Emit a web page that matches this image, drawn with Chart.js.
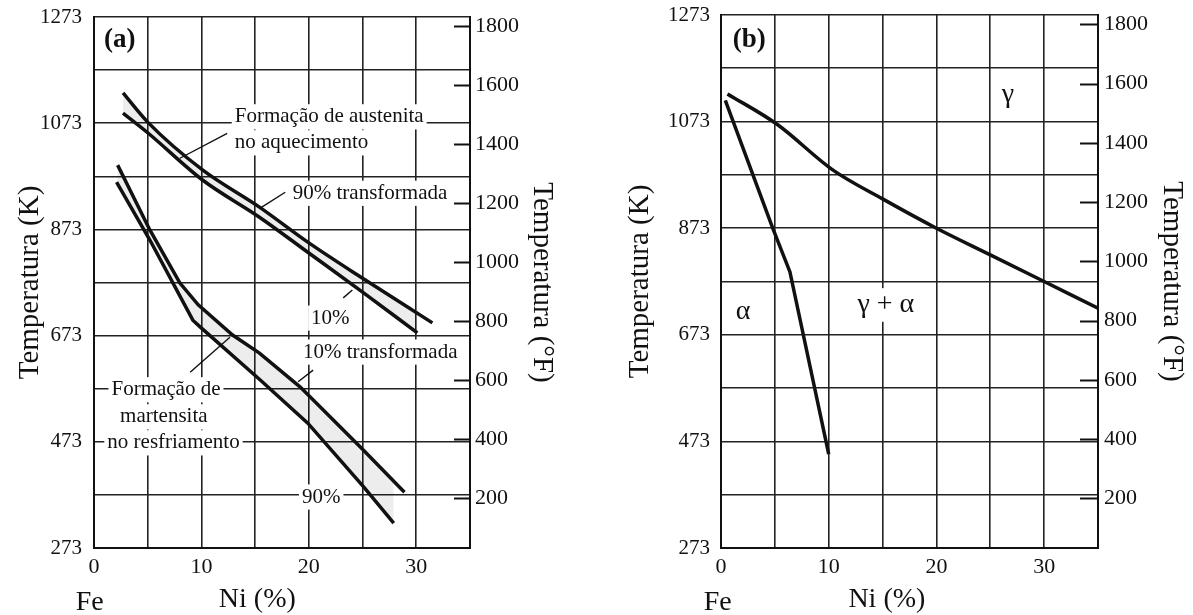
<!DOCTYPE html>
<html><head><meta charset="utf-8">
<script src="https://cdn.jsdelivr.net/npm/chart.js@4.4.1/dist/chart.umd.min.js"></script>
<style>
html,body{margin:0;padding:0;background:#fff;}
#wrap{position:relative;width:1193px;height:615px;overflow:hidden;background:#fff;}
canvas{position:absolute;top:0;}
#ca{left:0;} #cb{left:597px;}
</style></head><body>
<div id="wrap"><canvas id="ca" width="597" height="615"></canvas><canvas id="cb" width="596" height="615"></canvas></div>
<script>
// ---------- axis values ----------
const X_GRID = [0, 5, 10, 15, 20, 25, 30, 35];
const X_TICK_LABELS = [0, 10, 20, 30];
const K_GRID = [273, 373, 473, 573, 673, 773, 873, 973, 1073, 1173, 1273];
const K_TICK_LABELS = [273, 473, 673, 873, 1073, 1273];
const F_TICK_LABELS = [200, 400, 600, 800, 1000, 1200, 1400, 1600, 1800];

// ---------- panel (a) series: Ni (%) vs temperature (K) ----------
const NI_AUST_90 = [2.7, 5.0, 10.1, 15.4, 19.9, 25.0, 31.5];
const K_AUST_90  = [1130, 1075, 985, 915, 849, 781, 697];
const NI_AUST_10 = [2.7, 5.0, 10.1, 15.4, 19.9, 25.0, 30.1];
const K_AUST_10  = [1092, 1055, 966, 896, 830, 755, 678];
const NI_MART_10 = [2.2, 5.2, 8.0, 9.7, 12.9, 15.4, 19.2, 25.0, 28.9];
const K_MART_10  = [994, 872, 772, 731, 674, 640, 576, 459, 378];
const NI_MART_90 = [2.1, 5.2, 9.2, 9.9, 15.5, 19.9, 25.1, 27.9];
const K_MART_90  = [962, 853, 702, 689, 589, 508, 388, 320];

// ---------- panel (b) series ----------
const NI_GAMMA = [0.6, 5.2, 10.4, 15.0, 20.0, 25.0, 30.0, 35.0];
const K_GAMMA  = [1125, 1068, 982, 928, 873, 823, 773, 723];
const NI_ALPHA = [0.4, 4.8, 6.4, 10.0];
const K_ALPHA  = [1113, 873, 791, 449];

const INK = '#111';
const SERIF = '"Liberation Serif", "DejaVu Serif", serif';
const kToF = k => (k - 273.15) * 1.8 + 32;

function pts(xs, ys) { return xs.map((x, i) => ({ x: x, y: ys[i] })); }
function lineDs(xs, ys, extra) {
  return Object.assign({
    data: pts(xs, ys), borderColor: INK, borderWidth: 3.5, pointRadius: 0,
    tension: 0, fill: false, backgroundColor: 'rgba(0,0,0,0.07)'
  }, extra || {});
}
function noPad(s) { s.paddingTop = 0; s.paddingBottom = 0; s.paddingLeft = 0; s.paddingRight = 0; }

const notesPlugin = {
  id: 'notes',
  beforeDatasetsDraw(chart, args, opts) {
    const ctx = chart.ctx, xs = chart.scales.x, ys = chart.scales.y, yf = chart.scales.yF;
    const ca = chart.chartArea;
    ctx.save();
    ctx.strokeStyle = INK; ctx.lineWidth = 2;
    F_TICK_LABELS.forEach(v => {
      const y = Math.round(yf.getPixelForValue(v)) + 0.5;
      ctx.beginPath(); ctx.moveTo(ca.right - opts.markLen, y); ctx.lineTo(ca.right, y); ctx.stroke();
    });
    (opts.texts || []).forEach(t => {
      ctx.font = t.font;
      const x = xs.getPixelForValue(t.x), y = ys.getPixelForValue(t.y);
      const w = ctx.measureText(t.text).width;
      const left = t.align === 'center' ? x - w / 2 : x;
      if (t.box) { ctx.fillStyle = '#fff'; ctx.fillRect(left - 3, y - t.size * 0.6, w + 6, t.size * 1.2); }
      ctx.fillStyle = INK; ctx.textAlign = 'left'; ctx.textBaseline = 'middle';
      ctx.fillText(t.text, left, y);
    });
    ctx.strokeStyle = INK; ctx.lineWidth = 1.4;
    (opts.leaders || []).forEach(l => {
      ctx.beginPath();
      ctx.moveTo(xs.getPixelForValue(l[0]), ys.getPixelForValue(l[1]));
      ctx.lineTo(xs.getPixelForValue(l[2]), ys.getPixelForValue(l[3]));
      ctx.stroke();
    });
    ctx.restore();
  },
  afterDraw(chart, args, opts) {
    const ctx = chart.ctx, xs = chart.scales.x, ca = chart.chartArea;
    ctx.save();
    ctx.fillStyle = INK; ctx.textBaseline = 'middle'; ctx.textAlign = 'center';
    ctx.font = '28px ' + SERIF;
    ctx.fillText('Fe', xs.getPixelForValue(opts.feAt), ca.bottom + 55);
    ctx.fillText('Ni (%)', xs.getPixelForValue(opts.niAt), ca.bottom + 52);
    ctx.restore();
  }
};

function makePanel(id, datasets, cfg) {
  return new Chart(document.getElementById(id), {
    type: 'line',
    data: { datasets: datasets },
    plugins: [notesPlugin],
    options: {
      animation: false, responsive: false, devicePixelRatio: 1,
      layout: { padding: { top: cfg.padTop, left: 0, right: 0, bottom: 0 } },
      plugins: {
        legend: { display: false }, tooltip: { enabled: false },
        notes: cfg.notes
      },
      scales: {
        x: {
          type: 'linear', position: 'bottom', min: 0, max: 35,
          afterBuildTicks: s => { s.ticks = X_GRID.map(v => ({ value: v })); },
          afterFit: s => { s.height = cfg.xHeight; noPad(s); },
          ticks: {
            autoSkip: false, maxRotation: 0, padding: 6, color: INK,
            font: { family: SERIF, size: 22 },
            callback: v => X_TICK_LABELS.includes(v) ? String(v) : ''
          },
          grid: { color: '#222', lineWidth: 1.6, drawTicks: false },
          border: { color: INK, width: 2 }
        },
        y: {
          type: 'linear', position: 'left', min: 273, max: 1273,
          afterBuildTicks: s => { s.ticks = K_GRID.map(v => ({ value: v })); },
          afterFit: s => { s.width = cfg.leftW; noPad(s); },
          ticks: {
            autoSkip: false, padding: cfg.leftPad, color: INK,
            font: { family: SERIF, size: 21 },
            callback: v => K_TICK_LABELS.includes(v) ? String(v) : ''
          },
          grid: { color: '#222', lineWidth: 1.6, drawTicks: false },
          border: { color: INK, width: 2 },
          title: { display: true, text: 'Temperatura (K)', color: INK,
                   font: { family: SERIF, size: 29 }, padding: { top: cfg.leftTitlePad, bottom: 0 } }
        },
        yF: {
          type: 'linear', position: 'right', min: kToF(273), max: kToF(1273),
          afterBuildTicks: s => { s.ticks = F_TICK_LABELS.map(v => ({ value: v })); },
          afterFit: s => { s.width = cfg.rightW; noPad(s); },
          ticks: {
            autoSkip: false, padding: cfg.rightPad, color: INK,
            font: { family: SERIF, size: 22 },
            callback: v => String(v)
          },
          grid: { drawOnChartArea: false, drawTicks: false },
          border: { color: INK, width: 2 },
          title: { display: true, text: 'Temperatura (°F)', color: INK,
                   font: { family: SERIF, size: 29 }, padding: { top: cfg.rightTitlePad, bottom: 0 } }
        }
      }
    }
  });
}

const NOTE_FONT = '21px ' + SERIF;
const GREEK_FONT = '28px ' + SERIF;
const BOLD_FONT = 'bold 27px ' + SERIF;

makePanel('ca', [
  lineDs(NI_AUST_90, K_AUST_90, { cubicInterpolationMode: 'monotone' }),
  lineDs(NI_AUST_10, K_AUST_10, { cubicInterpolationMode: 'monotone', fill: '-1' }),
  lineDs(NI_MART_10, K_MART_10),
  lineDs(NI_MART_90, K_MART_90, { fill: '-1' })
], {
  padTop: 17, xHeight: 67, leftW: 94, rightW: 127, leftPad: 12, rightPad: 5,
  leftTitlePad: 13, rightTitlePad: 38,
  notes: {
    markLen: 16, feAt: -0.4, niAt: 15.2,
    texts: [
      { text: '(a)', x: 0.93, y: 1230, font: BOLD_FONT, size: 27, align: 'left', box: false },
      { text: 'Formação de austenita', x: 13.1, y: 1085, font: NOTE_FONT, size: 21, align: 'left', box: true },
      { text: 'no aquecimento', x: 13.1, y: 1036, font: NOTE_FONT, size: 21, align: 'left', box: true },
      { text: '90% transformada', x: 18.5, y: 941, font: NOTE_FONT, size: 21, align: 'left', box: true },
      { text: '10%', x: 22.0, y: 706, font: NOTE_FONT, size: 21, align: 'center', box: true },
      { text: '10% transformada', x: 19.45, y: 642, font: NOTE_FONT, size: 21, align: 'left', box: true },
      { text: 'Formação de', x: 6.7, y: 571, font: NOTE_FONT, size: 21, align: 'center', box: true },
      { text: 'martensita', x: 6.5, y: 520, font: NOTE_FONT, size: 21, align: 'center', box: true },
      { text: 'no resfriamento', x: 7.4, y: 471, font: NOTE_FONT, size: 21, align: 'center', box: true },
      { text: '90%', x: 21.15, y: 369, font: NOTE_FONT, size: 21, align: 'center', box: true }
    ],
    leaders: [
      [8.0, 1007, 12.4, 1054],
      [15.47, 913, 17.8, 943],
      [23.2, 744, 24.05, 759],
      [19.0, 586, 20.4, 608],
      [8.95, 604, 12.65, 670]
    ]
  }
});

makePanel('cb', [
  lineDs(NI_GAMMA, K_GAMMA, { cubicInterpolationMode: 'monotone' }),
  lineDs(NI_ALPHA, K_ALPHA)
], {
  padTop: 15, xHeight: 67, leftW: 124, rightW: 95, leftPad: 11, rightPad: 6,
  leftTitlePad: 26, rightTitlePad: 4,
  notes: {
    markLen: 18, feAt: -0.3, niAt: 15.4,
    texts: [
      { text: '(b)', x: 1.1, y: 1226, font: BOLD_FONT, size: 27, align: 'left', box: false },
      { text: 'γ', x: 26.65, y: 1123, font: GREEK_FONT, size: 28, align: 'center', box: true },
      { text: 'α', x: 2.05, y: 716, font: GREEK_FONT, size: 28, align: 'center', box: true },
      { text: 'γ + α', x: 15.3, y: 729, font: GREEK_FONT, size: 28, align: 'center', box: true }
    ],
    leaders: []
  }
});
</script></body></html>
